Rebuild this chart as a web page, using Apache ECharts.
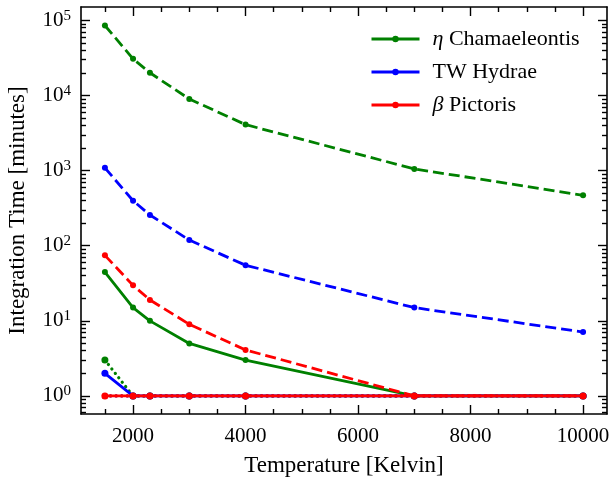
<!DOCTYPE html>
<html><head><meta charset="utf-8">
<script src="https://cdn.jsdelivr.net/npm/echarts@6/dist/echarts.min.js"></script>
<style>html,body{margin:0;padding:0;background:#fff}#c{width:614px;height:479px}</style>
</head><body><div id="c"></div>
<script>
// ---- data ----
var temps = [1500, 2000, 2300, 3000, 4000, 7000, 10000];
var etaDashed  = [85700, 30800, 20100, 9000, 4100, 1055, 470];
var etaSolid   = [44.7, 15, 10, 5, 3, 1, 1];
var etaDotted  = [3, 1, 1, 1, 1, 1, 1];
var twDashed   = [1090, 398, 257, 119, 55, 15, 7.1];
var twSolid    = [2, 1, 1, 1, 1, 1, 1];
var twDotted   = [1, 1, 1, 1, 1, 1, 1];
var betaDashed = [74.5, 29.7, 19, 9, 4.1, 1, 1];
var betaSolid  = [1, 1, 1, 1, 1, 1, 1];
var betaDotted = [1, 1, 1, 1, 1, 1, 1];
var xMajorTicks = [2000, 4000, 6000, 8000, 10000];
var xMinorTicks = [1500, 2500, 3000, 3500, 4500, 5000, 5500, 6500, 7000, 7500, 8500, 9000, 9500];
var yMajorTicks = [1, 10, 100, 1000, 10000, 100000];
var yMinorTicks = [0.6, 0.7, 0.8, 0.9, 2, 3, 4, 5, 6, 7, 8, 9, 20, 30, 40, 50, 60, 70, 80, 90,
  200, 300, 400, 500, 600, 700, 800, 900, 2000, 3000, 4000, 5000, 6000, 7000, 8000, 9000,
  20000, 30000, 40000, 50000, 60000, 70000, 80000, 90000];
var legendNames = ['η Chamaeleontis', 'TW Hydrae', 'β Pictoris'];

var FONT = '"Liberation Serif", "DejaVu Serif", serif';
var XMIN = 1075, XMAX = 10425, YMIN = 0.575, YMAX = 151000;
var GREEN = '#008000', BLUE = '#0000ff', RED = '#ff0000';

function pairs(arr) { return temps.map(function (t, i) { return [t, arr[i]]; }); }

function xAxisDef(pos, ticks, len, showLabel, showLine, name) {
  return {
    type: 'value', position: pos, min: XMIN, max: XMAX, gridIndex: 0,
    name: name || '', nameLocation: 'middle', nameGap: 40,
    nameTextStyle: { fontFamily: FONT, fontSize: 23, color: '#000' },
    axisLine: { show: showLine, onZero: false, lineStyle: { color: '#000', width: 1.6 } },
    axisTick: { show: true, inside: true, length: len, customValues: ticks, lineStyle: { color: '#000', width: 1.4 } },
    axisLabel: { show: showLabel, customValues: xMajorTicks, margin: 12, fontFamily: FONT, fontSize: 21, color: '#000',
      formatter: function (v) { return String(Math.round(v)); } },
    splitLine: { show: false }
  };
}
function yAxisDef(pos, ticks, len, showLabel, showLine, name) {
  return {
    type: 'log', logBase: 10, position: pos, min: YMIN, max: YMAX, gridIndex: 0,
    name: name || '', nameLocation: 'middle', nameGap: 52,
    nameTextStyle: { fontFamily: FONT, fontSize: 23, color: '#000' },
    axisLine: { show: showLine, onZero: false, lineStyle: { color: '#000', width: 1.6 } },
    axisTick: { show: true, inside: true, length: len, customValues: ticks, lineStyle: { color: '#000', width: 1.4 } },
    axisLabel: {
      show: showLabel, customValues: yMajorTicks, margin: 10, color: '#000',
      formatter: function (v) { return '{b|10}{s|' + Math.round(Math.log10(v)) + '}'; },
      rich: {
        b: { fontFamily: FONT, fontSize: 21, color: '#000' },
        s: { fontFamily: FONT, fontSize: 15, color: '#000', padding: [0, 0, 9, 0] }
      }
    },
    splitLine: { show: false }
  };
}

function line(name, data, color, type, width, sym, z, cap) {
  return {
    type: 'line', name: name, data: pairs(data), xAxisIndex: 0, yAxisIndex: 0,
    symbol: 'circle', symbolSize: sym, showSymbol: true, z: z,
    itemStyle: { color: color },
    lineStyle: { color: color, width: width, type: type, cap: cap || 'butt' },
    animation: false, emphasis: { disabled: true }
  };
}

var DOT = [0.1, 5.5];
var chart = echarts.init(document.getElementById('c'), null, { renderer: 'canvas' });
chart.setOption({
  animation: false,
  backgroundColor: '#fff',
  grid: { left: 81, right: 7, top: 7, bottom: 65, containLabel: false, outerBoundsMode: 'none' },
  legend: {
    left: 365, top: 23, orient: 'vertical', itemWidth: 48, itemHeight: 8, itemGap: 11,
    data: legendNames,
    lineStyle: { width: 3 },
    textStyle: {
      fontFamily: FONT, fontSize: 22, color: '#000', padding: [0, 0, 0, 8],
      rich: { i: { fontFamily: FONT, fontSize: 22, fontStyle: 'italic', color: '#000' } }
    },
    formatter: function (n) {
      if (n.charAt(0) === 'η' || n.charAt(0) === 'β') return '{i|' + n.charAt(0) + '} ' + n.slice(2);
      return n;
    }
  },
  xAxis: [
    xAxisDef('bottom', xMajorTicks, 9, true, true, 'Temperature [Kelvin]'),
    xAxisDef('bottom', xMinorTicks, 5, false, false),
    xAxisDef('top', xMajorTicks, 9, false, true),
    xAxisDef('top', xMinorTicks, 5, false, false)
  ],
  yAxis: [
    yAxisDef('left', yMajorTicks, 9, true, true, 'Integration Time [minutes]'),
    yAxisDef('left', yMinorTicks, 5, false, false),
    yAxisDef('right', yMajorTicks, 9, false, true),
    yAxisDef('right', yMinorTicks, 5, false, false)
  ],
  series: [
    line('eta dashed', etaDashed, GREEN, [11, 5], 2.8, 6, 2),
    line(legendNames[0], etaSolid, GREEN, 'solid', 2.8, 6, 2),
    line('eta dotted', etaDotted, GREEN, DOT, 3.2, 7, 2, 'round'),
    line('tw dashed', twDashed, BLUE, [11, 5], 2.8, 6, 3),
    line(legendNames[1], twSolid, BLUE, 'solid', 2.8, 7, 3),
    line('tw dotted', twDotted, BLUE, DOT, 3.2, 6, 3, 'round'),
    line('beta dashed', betaDashed, RED, [11, 5], 2.8, 6, 4),
    line(legendNames[2], betaSolid, RED, 'solid', 2.8, 7, 4),
    line('beta dotted', betaDotted, RED, DOT, 3.2, 6, 4, 'round')
  ]
});
</script></body></html>
